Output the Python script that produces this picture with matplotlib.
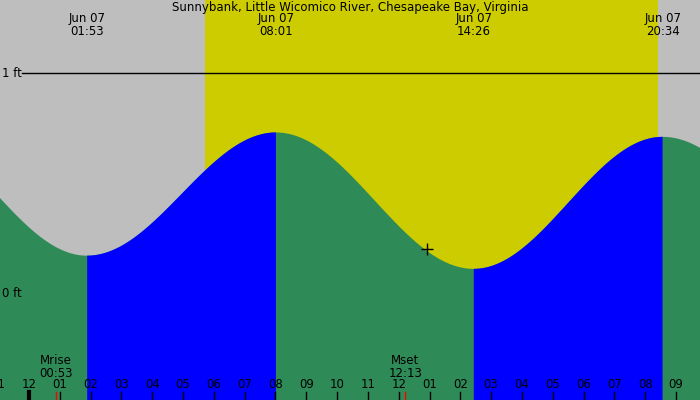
import numpy as np
import matplotlib.pyplot as plt

# extremes (hours from midnight Jun 07, height in ft)
ext_hours = [-4.2, 1.883, 8.017, 14.433, 20.567, 26.9]
ext_heights = [0.76, 0.17, 0.73, 0.11, 0.71, 0.14]
label_hours = [1.883, 8.017, 14.433, 20.567]
label_texts = ["Jun 07\n01:53", "Jun 07\n08:01", "Jun 07\n14:26", "Jun 07\n20:34"]

sunrise, sunset = 5.71, 20.42
moon_hours = [0.883, 12.217]
moon_texts = ["Mrise\n00:53", "Mset\n12:13"]
now_hour, now_height = 12.92, 0.20

tick_hours = list(range(-1, 22))
tick_labels = ["11", "12"] + ["%02d" % h for h in range(1, 12)] + ["12"] + ["%02d" % h for h in range(1, 10)]

x0, x1 = -0.941, 21.78
y0, y1 = -0.486, 1.332

# cosine interpolation between highs and lows
t = np.linspace(x0, x1, 2000)
h = np.zeros_like(t)
rising = np.zeros_like(t, dtype=bool)
for i in range(len(ext_hours) - 1):
    a, b = ext_hours[i], ext_hours[i + 1]
    ha, hb = ext_heights[i], ext_heights[i + 1]
    m = (t >= a) & (t <= b)
    p = (t[m] - a) / (b - a)
    h[m] = hb + (ha - hb) * (1 + np.cos(np.pi * p)) / 2
    rising[m] = hb > ha

fig = plt.figure(figsize=(7, 4), dpi=100, facecolor="#bebebe")
ax = fig.add_axes([0, 0, 1, 1])
ax.set_xlim(x0, x1)
ax.set_ylim(y0, y1)
ax.axis("off")

ax.axvspan(x0, x1, color="#bebebe", lw=0)
ax.axvspan(sunrise, sunset, color="#cccc00", lw=0)
ax.fill_between(t, y0, h, color="#2e8b57", lw=0)
ax.fill_between(t, y0, h, where=rising, color="#0000ff", lw=0)

ax.axhline(1, xmin=22 / 700, color="black", lw=1)
ax.text(x0 + 0.06, 1, "1 ft", fontsize=8.5, va="center", ha="left")
ax.text(x0 + 0.06, 0, "0 ft", fontsize=8.5, va="center", ha="left")

ax.text(0.5, 1 - 7 / 400, "Sunnybank, Little Wicomico River, Chesapeake Bay, Virginia",
        transform=ax.transAxes, fontsize=8.5, ha="center", va="center")
for xh, s in zip(label_hours, label_texts):
    ax.text(xh, 1 - 25 / 400, s, transform=ax.get_xaxis_transform(), fontsize=8.5,
            ha="center", va="center", linespacing=1.0)

for xh, s in zip(moon_hours, moon_texts):
    ax.text(xh, 1 - 367 / 400, s, transform=ax.get_xaxis_transform(), fontsize=8.5,
            ha="center", va="center", linespacing=1.0)
    ax.axvline(xh, ymin=0, ymax=8 / 400, color="red", lw=1)

for xh, s in zip(tick_hours, tick_labels):
    ax.axvline(xh, ymin=0, ymax=8 / 400, color="black", lw=3 if xh == 0 else 1)
    ax.text(xh, 1 - 385 / 400, s, transform=ax.get_xaxis_transform(), fontsize=8.5,
            ha="center", va="center")

ax.plot(now_hour, now_height, marker="+", color="black", ms=9, mew=1)

fig.savefig("out.png", dpi=100, facecolor="#bebebe")
